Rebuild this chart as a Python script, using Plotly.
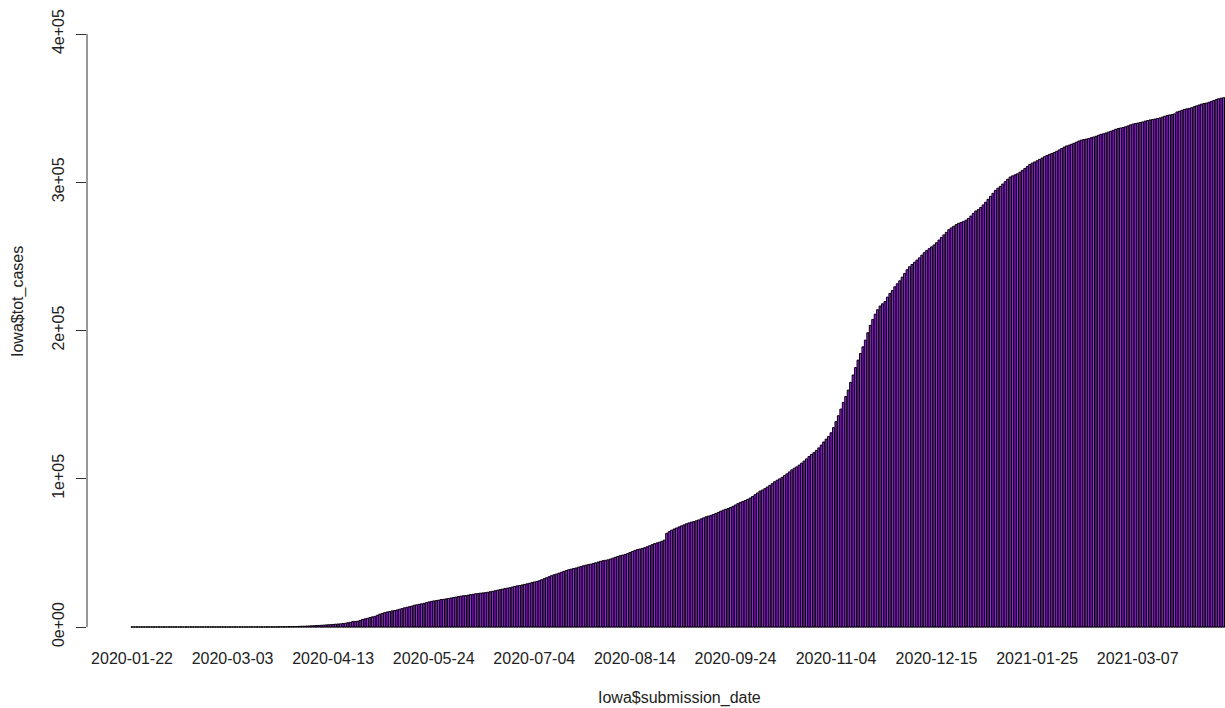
import pandas as pd
import plotly.graph_objects as go

# Cumulative COVID-19 cases reported for Iowa, one value per submission day
jan_2020 = [0] * 10  # Jan 22 - Jan 31
feb_2020 = [0] * 29
mar_2020 = [0, 0, 0, 0, 0, 0, 0, 3, 8, 13, 14, 16, 17, 18, 22, 23, 29, 38, 44, 45,
            68, 90, 105, 124, 145, 179, 235, 298, 336, 424, 497]
apr_2020 = [550, 620, 700, 790, 870, 950, 1050, 1150, 1270, 1390, 1510, 1590, 1710,
            1900, 2000, 2140, 2330, 2510, 2900, 3160, 3640, 3750, 3920, 4450, 5090,
            5480, 5870, 6380, 6840, 7150]
may_2020 = [7884, 8641, 9169, 9703, 10111, 10404, 10843, 11059, 11457, 11959, 12373,
            12912, 13289, 13675, 14049, 14651, 14955, 15296, 15620, 15951, 16408,
            16893, 17252, 17585, 17772, 18113, 18482, 18672, 18950, 19262, 19552]
jun_2020 = [19850, 20160, 20500, 20790, 21060, 21250, 21480, 21800, 22060, 22380,
            22560, 22810, 23000, 23140, 23420, 23780, 24090, 24420, 24800, 25190,
            25530, 25900, 26180, 26500, 26920, 27380, 27750, 28010, 28350, 28700]
jul_2020 = [29100, 29500, 29950, 30350, 30750, 31200, 31850, 32550, 33200, 33900,
            34600, 35200, 35700, 36300, 36900, 37500, 38100, 38600, 39000, 39400,
            39800, 40300, 40800, 41300, 41700, 42100, 42400, 42800, 43300, 43800, 44300]
aug_2020 = [44700, 45000, 45300, 45800, 46400, 47000, 47600, 48100, 48500, 48900,
            49500, 50200, 50900, 51600, 52200, 52600, 53000, 53500, 54100, 54800,
            55500, 56200, 56700, 57200, 57800, 58600, 63200, 64300, 65300, 66100, 66800]
sep_2020 = [67500, 68200, 68900, 69600, 70200, 70700, 71100, 71600, 72200, 72900,
            73600, 74300, 74800, 75300, 75900, 76600, 77300, 78100, 78800, 79400,
            79900, 80600, 81400, 82300, 83200, 84000, 84700, 85300, 86100, 87000]
oct_2020 = [88000, 89200, 90400, 91600, 92400, 93300, 94400, 95500, 96700, 98000,
            99000, 99900, 100900, 102100, 103300, 104600, 106000, 107100, 108000,
            109200, 110500, 111900, 113400, 115000, 116400, 117600, 119100, 120800,
            122700, 124800, 126700]
nov_2020 = [128500, 131000, 134500, 138500, 142500, 147000, 151500, 155500, 159800,
            165000, 170000, 175000, 180000, 184500, 189000, 193500, 198500, 203500,
            207500, 211000, 214000, 216500, 218000, 219500, 222500, 225000, 227000,
            229500, 231500, 233500]
dec_2020 = [236000, 238500, 241000, 243000, 244500, 246000, 247500, 249000, 250800,
            252500, 254000, 255200, 256400, 257700, 259200, 261000, 262800, 264500,
            266200, 268000, 269200, 270300, 271400, 272300, 272900, 273500, 274400,
            275600, 277200, 279000, 280600]
jan_2021 = [281500, 283000, 284700, 286500, 288500, 290500, 292500, 294500, 296000,
            297200, 298800, 300400, 302000, 303500, 304300, 305000, 305700, 306800,
            308000, 309300, 310600, 312000, 312900, 313700, 314500, 315400, 316300,
            317200, 318100, 318800, 319400]
feb_2021 = [320100, 320900, 321800, 322700, 323700, 324500, 325000, 325600, 326300,
            327000, 327800, 328400, 328800, 329100, 329500, 330000, 330500, 331000,
            331700, 332300, 332700, 333200, 333800, 334400, 335000, 335700, 336200,
            336600]
mar_2021 = [336900, 337400, 338000, 338700, 339200, 339600, 339900, 340300, 340700,
            341200, 341600, 342000, 342300, 342600, 343000, 343400, 343900, 344500,
            345000, 345400, 345700, 346100, 347400, 347900, 348500, 349100, 349500,
            349800, 350300, 350900, 351500]
apr_2021 = [352100, 352700, 353100, 353400, 353900, 354500, 355100, 355700, 356300,
            356700, 357000, 357500]

tot_cases = (jan_2020 + feb_2020 + mar_2020 + apr_2020 + may_2020 + jun_2020
             + jul_2020 + aug_2020 + sep_2020 + oct_2020 + nov_2020 + dec_2020
             + jan_2021 + feb_2021 + mar_2021 + apr_2021)

submission_date = [d.strftime("%Y-%m-%d")
                   for d in pd.date_range("2020-01-22", periods=len(tot_cases), freq="D")]

x_tick_labels = ["2020-01-22", "2020-03-03", "2020-04-13", "2020-05-24", "2020-07-04",
                 "2020-08-14", "2020-09-24", "2020-11-04", "2020-12-15", "2021-01-25",
                 "2021-03-07"]
y_tick_values = [0, 100000, 200000, 300000, 400000]
y_tick_labels = ["0e+00", "1e+05", "2e+05", "3e+05", "4e+05"]

W, H = 1225, 708
M_L, M_R, M_T, M_B = 87, 0, 0, 68
plot_w = W - M_L - M_R
plot_h = H - M_T - M_B

fig = go.Figure(
    go.Bar(
        x=submission_date,
        y=tot_cases,
        marker=dict(color="#A020F0", line=dict(color="black", width=1)),
        hoverinfo="x+y",
    )
)

fig.update_layout(
    width=W,
    height=H,
    margin=dict(l=M_L, r=M_R, t=M_T, b=M_B, pad=0),
    paper_bgcolor="white",
    plot_bgcolor="white",
    bargap=1 / 6,
    showlegend=False,
    font=dict(family="Liberation Sans, Arial, sans-serif", size=16, color="#222222"),
    xaxis=dict(
        type="category",
        range=[-18.35, 445.6],
        tickmode="array",
        tickvals=x_tick_labels,
        ticktext=x_tick_labels,
        tickangle=0,
        ticks="",
        ticklabelstandoff=7,
        showgrid=False,
        zeroline=False,
        showline=False,
    ),
    yaxis=dict(
        range=[-8769, 422934],
        tickmode="array",
        tickvals=y_tick_values,
        ticktext=y_tick_labels,
        tickangle=-90,
        ticks="outside",
        ticklen=10,
        tickwidth=1,
        tickcolor="#333333",
        ticklabelstandoff=6,
        showgrid=False,
        zeroline=False,
        showline=False,
    ),
    shapes=[
        # y axis line spanning the tick range only
        dict(type="line", xref="paper", yref="y", x0=0, x1=0, y0=0, y1=400000,
             line=dict(color="#333333", width=1)),
        # baseline under the bars
        dict(type="line", xref="x", yref="y", x0=-0.5, x1=len(tot_cases) - 0.5,
             y0=0, y1=0, line=dict(color="#444444", width=1), layer="below"),
    ],
    annotations=[
        dict(text="Iowa$tot_cases", xref="paper", yref="paper",
             x=(18 - M_L) / plot_w, y=1 - (302 - M_T) / plot_h,
             xanchor="center", yanchor="middle", textangle=-90, showarrow=False),
        dict(text="Iowa$submission_date", xref="paper", yref="paper",
             x=(679 - M_L) / plot_w, y=(plot_h + M_T - 698) / plot_h,
             xanchor="center", yanchor="middle", showarrow=False),
    ],
)

fig.write_html("out.html")
